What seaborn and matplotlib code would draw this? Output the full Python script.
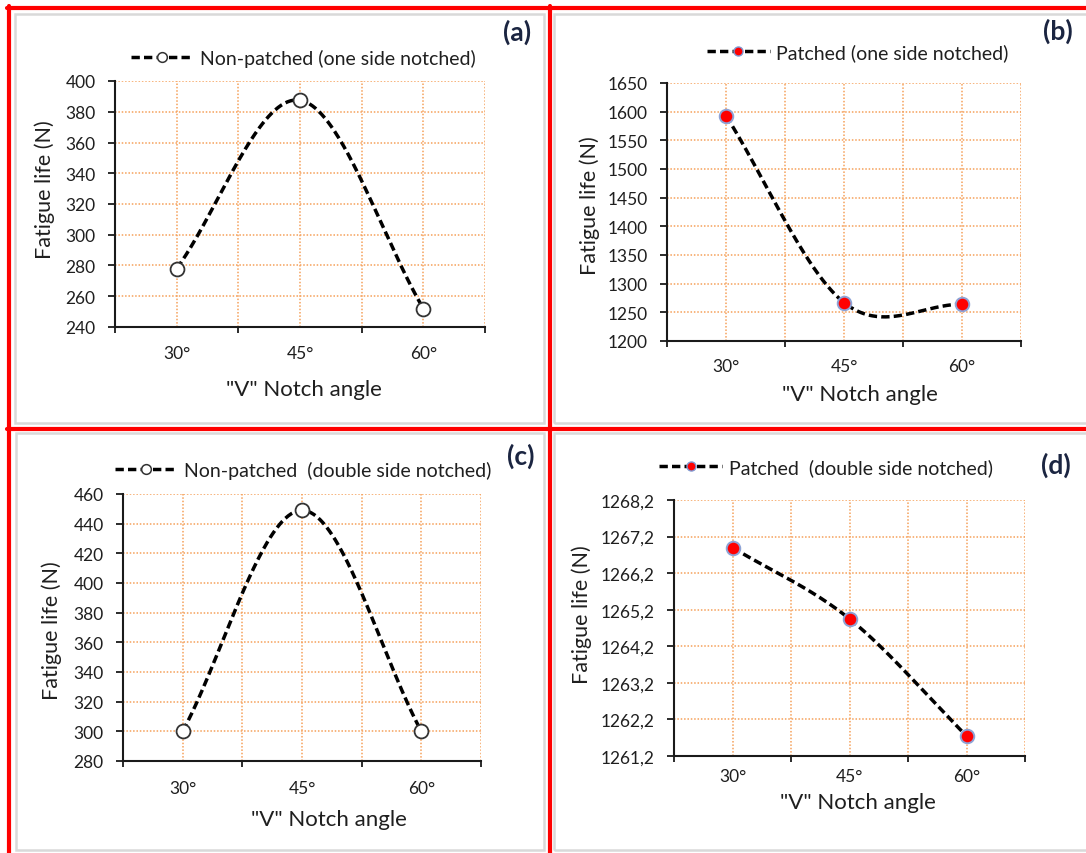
import numpy as np
import pandas as pd
import matplotlib
matplotlib.use("Agg")
import matplotlib.pyplot as plt
from matplotlib.lines import Line2D
from matplotlib.patches import Rectangle
import seaborn as sns

# ---------------- data ----------------
angles = ["30°", "45°", "60°"]
nonpatched_one = [278, 387.5, 252]
patched_one = [1593, 1267, 1264]
nonpatched_double = [300, 449, 300]
patched_double = [1266.9, 1264.95, 1261.75]

labels_legend = [
    "Non-patched (one side notched)",
    "Patched (one side notched)",
    "Non-patched  (double side notched)",
    "Patched  (double side notched)",
]
panel_tags = ["(a)", "(b)", "(c)", "(d)"]
yticks_a = [240, 260, 280, 300, 320, 340, 360, 380, 400]
yticks_b = [1200, 1250, 1300, 1350, 1400, 1450, 1500, 1550, 1600, 1650]
yticks_c = [280, 300, 320, 340, 360, 380, 400, 420, 440, 460]
yticks_d = [1261.2, 1262.2, 1263.2, 1264.2, 1265.2, 1266.2, 1267.2, 1268.2]
xlabel = '"V" Notch angle'
ylabel = "Fatigue life (N)"

# ---------------- style ----------------
sns.set_theme(style="white")
plt.rcParams["font.family"] = ["Lato", "DejaVu Sans"]

W, H = 1086, 854
fig = plt.figure(figsize=(W / 100, H / 100), dpi=100)
fig.patch.set_facecolor("white")

GRID = "#F5A05A"
TXT = "#1f1f1f"
TAG = "#1B2541"
DASH = (0, (2.4, 1.2))
LW = 2.5


def fx(px):
    return px / W


def fy(py):
    return 1 - py / H


def smooth(y, n=80):
    """Excel-like smoothed line (Catmull-Rom through the data points)."""
    y = np.asarray(y, float)
    x = np.arange(len(y), dtype=float)
    pts = np.concatenate([[2 * y[0] - y[1]], y, [2 * y[-1] - y[-2]]])
    xs, ys = [], []
    for i in range(len(y) - 1):
        p0, p1, p2, p3 = pts[i], pts[i + 1], pts[i + 2], pts[i + 3]
        m1 = (p2 - p0) / 2
        m2 = (p3 - p1) / 2
        t = np.linspace(0, 1, n)
        h00 = 2 * t**3 - 3 * t**2 + 1
        h10 = t**3 - 2 * t**2 + t
        h01 = -2 * t**3 + 3 * t**2
        h11 = t**3 - t**2
        xs.append(x[i] + t)
        ys.append(h00 * p1 + h10 * m1 + h01 * p2 + h11 * m2)
    return np.concatenate(xs), np.concatenate(ys)


panels = [
    dict(vals=nonpatched_one, yt=yticks_a, rect=(115, 485, 82, 328), leg=(303, 59),
         xl=(304, 390), yl=(45, 190), tag=(517, 32), xpad=13, patched=False, comma=False),
    dict(vals=patched_one, yt=yticks_b, rect=(667, 1021, 84, 342), leg=(858, 53),
         xl=(860, 395), yl=(590, 206), tag=(1058, 31), xpad=12, patched=True, comma=False),
    dict(vals=nonpatched_double, yt=yticks_c, rect=(123, 481, 495, 762), leg=(303, 471),
         xl=(329, 820), yl=(52, 631), tag=(521, 456), xpad=14, patched=False, comma=False),
    dict(vals=patched_double, yt=yticks_d, rect=(674, 1025, 501, 757), leg=(826, 468),
         xl=(858, 803), yl=(582, 615), tag=(1056, 465), xpad=8.5, patched=True, comma=True),
]

for i, p in enumerate(panels):
    L, R, T, B = p["rect"]
    ax = fig.add_axes([fx(L), fy(B), fx(R) - fx(L), fy(T) - fy(B)])
    ax.set_facecolor("white")

    xs, ys = smooth(p["vals"])
    sns.lineplot(x=xs, y=ys, ax=ax, color="black", lw=LW, linestyle=DASH,
                 estimator=None, sort=False, legend=False, zorder=2)
    df = pd.DataFrame({"x": np.arange(len(angles)), "y": p["vals"]})
    if p["patched"]:
        sns.scatterplot(data=df, x="x", y="y", ax=ax, color="#FF0000", s=95,
                        edgecolor="#8EA3D6", linewidth=1.4, zorder=3, legend=False)
        mk = dict(marker="o", ms=6.5, mfc="#FF0000", mec="#7F96D0", mew=1.0)
    else:
        sns.scatterplot(data=df, x="x", y="y", ax=ax, color="white", s=100,
                        edgecolor="#333333", linewidth=1.3, zorder=3, legend=False)
        mk = dict(marker="o", ms=7, mfc="white", mec="#333333", mew=1.1)

    yt = p["yt"]
    ax.set_xlim(-0.5, len(angles) - 0.5)
    ax.set_ylim(yt[0], yt[-1])
    ax.set_yticks(yt)
    if p["comma"]:
        ax.set_yticklabels([f"{v:.1f}".replace(".", ",") for v in yt])
    else:
        ax.set_yticklabels([f"{v:g}" for v in yt])
    ax.set_xticks(range(len(angles)))
    ax.set_xticklabels(angles)
    ax.set_xticks(np.arange(len(angles) + 1) - 0.5, minor=True)

    ax.grid(True, axis="y", which="major", color=GRID, lw=1.1, linestyle=(0, (1, 1.2)))
    ax.grid(True, axis="x", which="both", color=GRID, lw=1.1, linestyle=(0, (1, 1.2)))
    ax.set_axisbelow(True)

    for s in ["top", "right"]:
        ax.spines[s].set_visible(False)
    for s in ["left", "bottom"]:
        ax.spines[s].set_color("#1a1a1a")
        ax.spines[s].set_linewidth(1.5)

    ax.tick_params(axis="y", which="major", length=5, width=1.3, color="#1a1a1a",
                   direction="out", pad=9, labelsize=12.5, labelcolor=TXT, left=True)
    ax.tick_params(axis="x", which="major", length=0, pad=p["xpad"],
                   labelsize=12.5, labelcolor=TXT, bottom=True)
    ax.tick_params(axis="x", which="minor", length=4, width=1.3, color="#1a1a1a",
                   direction="out", bottom=True)

    ax.set_xlabel(xlabel, fontsize=16, color=TXT)
    ax.set_ylabel(ylabel, fontsize=15.5, color=TXT)
    ax.xaxis.label.set_va("center")
    ax.yaxis.label.set_va("center")
    ax.xaxis.set_label_coords((p["xl"][0] - L) / (R - L), (B - p["xl"][1]) / (B - T))
    ax.yaxis.set_label_coords((p["yl"][0] - L) / (R - L), (B - p["yl"][1]) / (B - T))

    handle = Line2D([], [], color="black", lw=LW, linestyle=DASH, **mk)
    ax.legend(handles=[handle], labels=[labels_legend[i]], loc="center",
              bbox_to_anchor=(fx(p["leg"][0]), fy(p["leg"][1])),
              bbox_transform=fig.transFigure, frameon=False, fontsize=14,
              handlelength=3.2, handletextpad=0.35, borderpad=0, borderaxespad=0,
              labelcolor=TXT)

    fig.text(fx(p["tag"][0]), fy(p["tag"][1]), panel_tags[i], fontsize=19,
             fontweight="bold", color=TAG, ha="center", va="center")

# ---------------- chart-area frames ----------------
GRAY = "#D9D9D9"
for (x0, y0, x1, y1) in [(14.5, 14.5, 544, 424), (554, 14.5, 1092, 424),
                         (15.5, 434, 544, 851), (554, 434, 1092, 851)]:
    fig.add_artist(Rectangle((fx(x0), fy(y1)), fx(x1) - fx(x0), fy(y0) - fy(y1),
                             transform=fig.transFigure, fill=False, ec=GRAY, lw=1.8))

RED = "#FF0000"
for (x0, y0, x1, y1) in [(7, 8.5, 1086, 8.5), (9, 7, 9, 854),
                         (549.5, 7, 549.5, 854), (7, 429.5, 1086, 429.5)]:
    fig.add_artist(Line2D([fx(x0), fx(x1)], [fy(y0), fy(y1)],
                          transform=fig.transFigure, color=RED, lw=3))

fig.savefig("out.png", dpi=100, facecolor="white")
